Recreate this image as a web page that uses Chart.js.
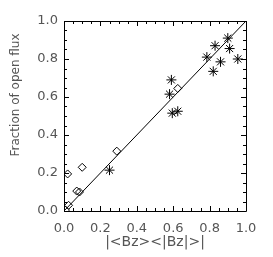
<!DOCTYPE html>
<html>
<head>
<meta charset="utf-8">
<script src="https://cdn.jsdelivr.net/npm/chart.js@4/dist/chart.umd.min.js"></script>
<style>
html,body{margin:0;padding:0;background:#fff;}
canvas{display:block;}
</style>
</head>
<body>
<canvas id="c" width="273" height="257"></canvas>
<script>
// Data
const diamondX = [0.02, 0.10, 0.07, 0.085, 0.025, 0.008, 0.29, 0.625];
const diamondY = [0.195, 0.23, 0.105, 0.10, 0.03, 0.005, 0.315, 0.645];
const starX = [0.25, 0.58, 0.59, 0.595, 0.625, 0.785, 0.83, 0.82, 0.86, 0.90, 0.91, 0.955];
const starY = [0.215, 0.615, 0.69, 0.515, 0.525, 0.81, 0.87, 0.735, 0.785, 0.91, 0.855, 0.80];
const lineX = [0, 1];
const lineY = [0, 1];
const tickValues = [0.0, 0.2, 0.4, 0.6, 0.8, 1.0];
const xTitle = '|<Bz><|Bz|>|';
const yTitle = 'Fraction of open flux';

const textColor = '#555';
const fontFamily = "'DejaVu Sans', sans-serif";

const toPts = (xs, ys) => xs.map((x, i) => ({x: x, y: ys[i]}));

const framePlugin = {
  id: 'frame',
  afterDatasetsDraw(chart) {
    const {ctx, chartArea: a, scales: {x, y}} = chart;
    ctx.save();
    ctx.strokeStyle = '#000';
    ctx.lineWidth = 1;
    ctx.beginPath();
    ctx.rect(Math.round(a.left) + 0.5, Math.round(a.top) + 0.5,
             Math.round(a.right - a.left), Math.round(a.bottom - a.top));
    ctx.stroke();
    ctx.beginPath();
    for (let i = 0; i <= 20; i++) {
      const v = i * 0.05;
      const len = (i % 4 === 0) ? 5 : 3;
      const px = Math.round(x.getPixelForValue(v)) + 0.5;
      const py = Math.round(y.getPixelForValue(v)) + 0.5;
      ctx.moveTo(px, a.bottom); ctx.lineTo(px, a.bottom - len);
      ctx.moveTo(px, a.top); ctx.lineTo(px, a.top + len);
      ctx.moveTo(a.left, py); ctx.lineTo(a.left + len, py);
      ctx.moveTo(a.right, py); ctx.lineTo(a.right - len, py);
    }
    ctx.stroke();
    // axis titles
    ctx.fillStyle = textColor;
    ctx.textAlign = 'center';
    ctx.textBaseline = 'middle';
    ctx.font = '14px ' + fontFamily;
    ctx.fillText(xTitle, (a.left + a.right) / 2, 242);
    ctx.font = '12px ' + fontFamily;
    ctx.translate(16, 95);
    ctx.rotate(-Math.PI / 2);
    ctx.fillText(yTitle, 0, 0);
    ctx.restore();
  }
};

new Chart(document.getElementById('c'), {
  type: 'scatter',
  data: {
    datasets: [
      {
        type: 'line',
        data: toPts(lineX, lineY),
        borderColor: '#000',
        borderWidth: 1,
        pointRadius: 0,
        fill: false
      },
      {
        data: toPts(diamondX, diamondY),
        pointStyle: 'rectRot',
        pointRadius: 4,
        borderColor: '#000',
        backgroundColor: 'rgba(0,0,0,0)',
        borderWidth: 1
      },
      {
        data: toPts(starX, starY),
        pointStyle: 'star',
        pointRadius: 5,
        borderColor: '#000',
        backgroundColor: '#000',
        borderWidth: 1
      }
    ]
  },
  options: {
    responsive: false,
    animation: false,
    devicePixelRatio: 1,
    layout: {padding: {top: 21, right: 27, left: 0, bottom: 0}},
    plugins: {legend: {display: false}, tooltip: {enabled: false}},
    scales: {
      x: {
        type: 'linear', min: 0, max: 1,
        grid: {display: false, drawTicks: false},
        border: {display: false},
        afterBuildTicks: (s) => { s.ticks = tickValues.map(v => ({value: v})); },
        afterFit: (s) => { s.height = 46; },
        ticks: {
          color: textColor, padding: 10,
          font: {size: 13, family: fontFamily},
          maxRotation: 0,
          callback: (v) => Number(v).toFixed(1)
        }
      },
      y: {
        type: 'linear', min: 0, max: 1,
        grid: {display: false, drawTicks: false},
        border: {display: false},
        afterBuildTicks: (s) => { s.ticks = tickValues.map(v => ({value: v})); },
        afterFit: (s) => { s.width = 64; },
        ticks: {
          color: textColor, padding: 6,
          font: {size: 13, family: fontFamily},
          callback: (v) => Number(v).toFixed(1)
        }
      }
    }
  },
  plugins: [framePlugin]
});
</script>
</body>
</html>
